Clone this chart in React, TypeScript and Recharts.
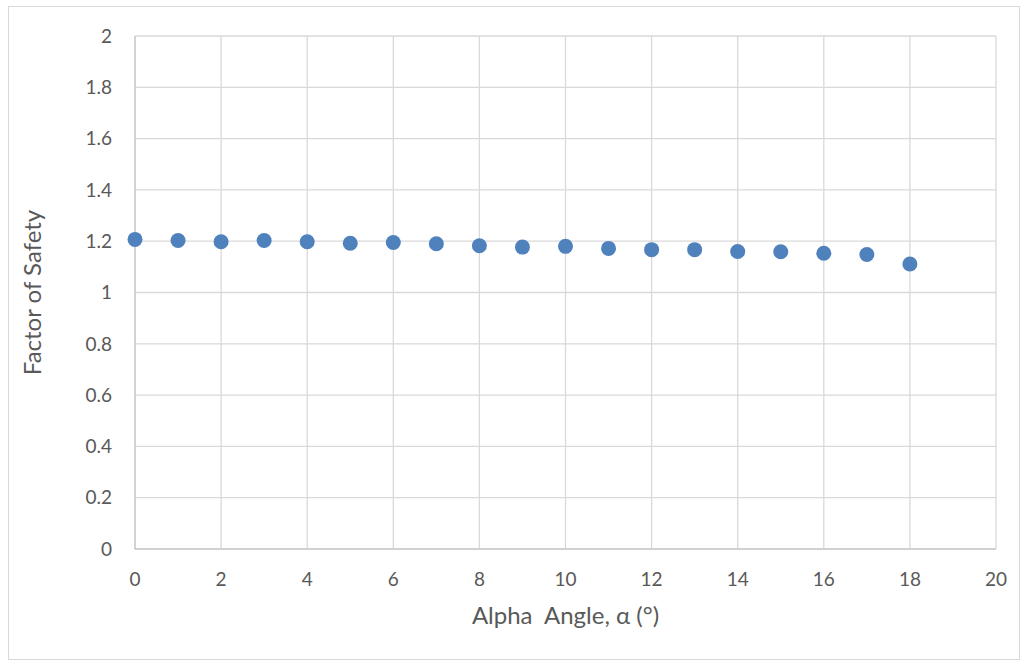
import { CartesianGrid, Scatter, ScatterChart, XAxis, YAxis } from "recharts";

const angles = [0, 1, 2, 3, 4, 5, 6, 7, 8, 9, 10, 11, 12, 13, 14, 15, 16, 17, 18];
const safety = [
  1.207, 1.203, 1.198, 1.203, 1.198, 1.192, 1.195, 1.19, 1.182, 1.177,
  1.18, 1.172, 1.167, 1.167, 1.16, 1.159, 1.153, 1.148, 1.111,
];
const xTicks = [0, 2, 4, 6, 8, 10, 12, 14, 16, 18, 20];
const yTicks = [0, 0.2, 0.4, 0.6, 0.8, 1, 1.2, 1.4, 1.6, 1.8, 2];

const data = angles.map((a, i) => ({ x: a, y: safety[i] }));

const font = "Lato, 'Open Sans', sans-serif";

const Dot = (props: any) => <circle cx={props.cx} cy={props.cy} r={7.5} fill="#4f81bd" />;

const App = () => {
  return (
    <div style={{ position: "absolute", left: 0, top: 0, width: 1029, height: 666, background: "#fff" }}>
      <div
        style={{
          position: "absolute",
          left: 8,
          top: 6,
          width: 1012,
          height: 654,
          border: "1px solid #d9d9d9",
          boxSizing: "border-box",
        }}
      />
      <ScatterChart
        width={1029}
        height={666}
        margin={{ top: 36, right: 33, bottom: 37, left: 75 }}
        style={{ fontFamily: font }}
      >
        <CartesianGrid stroke="#d9d9d9" strokeWidth={1.3} />
        <XAxis
          type="number"
          dataKey="x"
          domain={[0, 20]}
          ticks={xTicks}
          interval={0}
          height={80}
          stroke="#bfbfbf"
          tickLine={false}
          tick={{ fill: "#595959", fontSize: 19 }}
          tickMargin={18}
          label={{
            value: "Alpha\u00a0\u00a0Angle, α (°)",
            position: "insideBottom",
            offset: 5,
            fill: "#595959",
            fontSize: 24,
          }}
        />
        <YAxis
          type="number"
          dataKey="y"
          domain={[0, 2]}
          ticks={yTicks}
          interval={0}
          width={60}
          stroke="#bfbfbf"
          tickLine={false}
          tick={{ fill: "#595959", fontSize: 19 }}
          tickMargin={17}
          label={{
            value: "Factor of Safety",
            angle: -90,
            position: "insideLeft",
            offset: -43,
            style: { textAnchor: "middle" },
            fill: "#595959",
            fontSize: 24,
          }}
        />
        <Scatter data={data} fill="#4f81bd" shape={Dot} isAnimationActive={false} />
      </ScatterChart>
    </div>
  );
};

export default App;
